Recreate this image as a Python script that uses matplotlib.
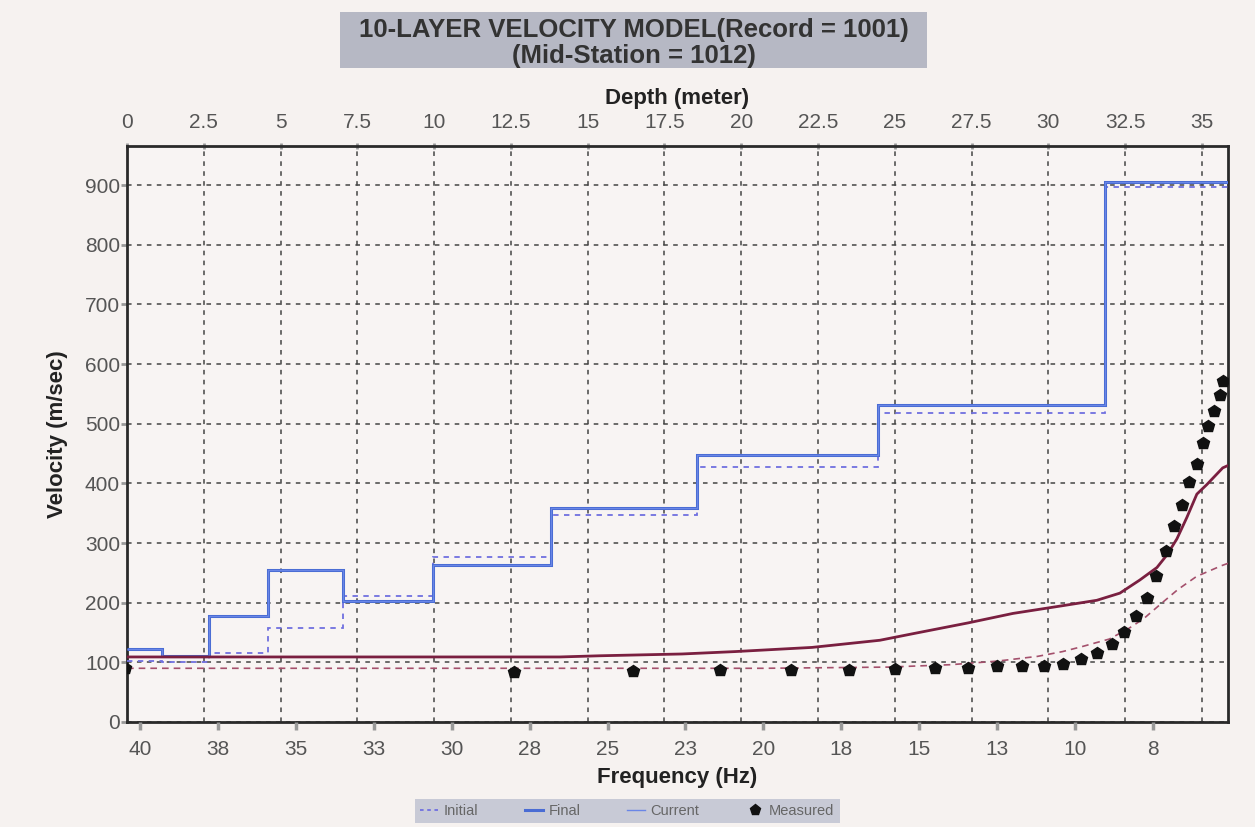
import matplotlib
matplotlib.use("Agg")
import matplotlib.pyplot as plt
from matplotlib.lines import Line2D
from matplotlib.patches import Rectangle

plt.rcParams['font.family'] = ['Liberation Sans', 'DejaVu Sans']

# ---------------- data ----------------
# layer boundaries (depth, m) and half-space end (axis limit)
layer_edges = [0.0, 1.14, 2.67, 4.59, 7.04, 9.97, 13.8, 18.57, 24.46, 31.86, 35.85]
vs_initial = [102, 100, 115, 158, 212, 277, 347, 428, 518, 897]
vs_final = [122, 111, 177, 254, 203, 263, 358, 447, 532, 905]
vs_current = [122, 111, 177, 254, 203, 263, 358, 447, 532, 905]

# dispersion curves (frequency Hz, phase velocity m/s)
disp_final_f = [40.42, 30.0, 26.53, 25.24, 22.61, 20.91, 18.44, 16.26, 15.20, 13.44, 11.99,
                10.39, 9.30, 8.56, 7.92, 7.37, 7.05, 6.73, 6.41, 6.09, 5.77, 5.26, 5.09]
disp_final_v = [109, 109, 109, 111, 114, 118, 125, 137, 148, 166, 182,
                195, 204, 216, 238, 259, 280, 307, 343, 382, 398, 426, 430]
disp_init_f = [40.42, 30.0, 20.0, 16.0, 14.0, 12.5, 11.2, 10.4, 9.8, 8.9, 8.3, 7.8, 7.2,
               6.7, 6.1, 5.3, 5.09]
disp_init_v = [90, 90, 90, 92, 96, 102, 110, 118, 126, 139, 156, 173, 200,
               222, 244, 262, 266]

# measured dispersion points
meas_f = [40.48, 28.0, 24.18, 21.39, 19.11, 17.25, 15.78, 14.49, 13.44, 12.51, 11.70,
          11.00, 10.39, 9.81, 9.30, 8.82, 8.43, 8.05, 7.69, 7.40, 7.08, 6.83, 6.57,
          6.35, 6.09, 5.90, 5.74, 5.54, 5.35, 5.26]
meas_v = [91, 84, 86, 87, 87, 87, 88, 90, 91, 93, 93,
          93, 97, 105, 115, 130, 151, 178, 208, 245, 287, 329, 364,
          402, 433, 467, 496, 522, 549, 572]

depth_ticks = [0, 2.5, 5, 7.5, 10, 12.5, 15, 17.5, 20, 22.5, 25, 27.5, 30, 32.5, 35]
depth_labels = ['0', '2.5', '5', '7.5', '10', '12.5', '15', '17.5', '20', '22.5', '25',
                '27.5', '30', '32.5', '35']
freq_ticks = [40, 37.5, 35, 32.5, 30, 27.5, 25, 22.5, 20, 17.5, 15, 12.5, 10, 7.5]
freq_labels = ['40', '38', '35', '33', '30', '28', '25', '23', '20', '18', '15', '13',
               '10', '8']
vel_ticks = [0, 100, 200, 300, 400, 500, 600, 700, 800, 900]

# ---------------- figure ----------------
BG = '#f6f2f0'
fig = plt.figure(figsize=(12.55, 8.27), dpi=100, facecolor=BG)
ax = fig.add_axes([0.1012, 0.127, 0.8773, 0.696])
ax.set_facecolor('#f8f4f3')
ax2 = ax.twiny()

C_FINAL = '#4a6cd4'
C_INIT = '#7070e0'
C_CURR = '#6a86e6'
C_MAROON = '#7a1f40'
C_MAROON_D = '#a4506c'
C_GRID = '#444444'
C_TICK = '#555555'

ax.stairs(vs_initial, layer_edges, baseline=None, color=C_INIT, lw=1.3,
          linestyle=(0, (3, 3)), zorder=3)
ax.stairs(vs_final, layer_edges, baseline=None, color=C_FINAL, lw=2.2, zorder=4)
ax.stairs(vs_current, layer_edges, baseline=None, color=C_CURR, lw=0.8, zorder=5)

ax.set_xlim(layer_edges[0], layer_edges[-1])
ax.set_ylim(0, 965)
ax.set_xticks(depth_ticks)
ax.set_xticklabels(depth_labels)
ax.xaxis.tick_top()
ax.xaxis.set_label_position('top')
ax.set_yticks(vel_ticks)
ax.grid(True, color=C_GRID, linestyle=(0, (3, 3.5)), lw=1.1)
ax.set_axisbelow(True)
ax.tick_params(axis='x', which='both', direction='inout', length=5, width=2,
               color='#999999', labelsize=15, labelcolor=C_TICK, pad=8,
               top=True, bottom=False, labeltop=True, labelbottom=False)
ax.tick_params(axis='y', which='both', direction='out', length=4, width=2,
               color='#999999', labelsize=15, labelcolor=C_TICK, pad=1)
ax.set_xlabel('Depth (meter)', fontsize=16, fontweight='bold', color='#222222', labelpad=6)
ax.set_ylabel('Velocity (m/sec)', fontsize=16, fontweight='bold', color='#222222', labelpad=12)
for s in ax.spines.values():
    s.set_color('#2a2a2a')
    s.set_linewidth(2)

# frequency axis (bottom)
ax2.set_xlim(40.42, 5.09)
ax2.set_xticks(freq_ticks)
ax2.set_xticklabels(freq_labels)
ax2.xaxis.tick_bottom()
ax2.xaxis.set_label_position('bottom')
ax2.tick_params(axis='x', direction='out', length=6, width=2.5, color='#999999',
                labelsize=15, labelcolor=C_TICK, pad=7,
                top=False, bottom=True, labeltop=False, labelbottom=True)
ax2.set_xlabel('Frequency (Hz)', fontsize=16, fontweight='bold', color='#222222', labelpad=6)
for s in ax2.spines.values():
    s.set_visible(False)

ax2.plot(disp_init_f, disp_init_v, color=C_MAROON_D, lw=1.2, linestyle=(0, (4, 3)), zorder=3)
ax2.plot(disp_final_f, disp_final_v, color=C_MAROON, lw=2.0, zorder=4)
ax2.plot(meas_f, meas_v, linestyle='none', marker='p', color='#111111', markersize=9, zorder=6)

# title box
fig.patches.append(Rectangle((0.271, 0.918), 0.468, 0.0677, transform=fig.transFigure,
                             facecolor='#b6b8c4', edgecolor='none', zorder=0))
fig.text(0.505, 0.948, '10-LAYER VELOCITY MODEL(Record = 1001)\n(Mid-Station = 1012)',
         ha='center', va='center', fontsize=18.5, fontweight='bold', color='#333333',
         linespacing=1.15)

# legend
handles = [Line2D([], [], color=C_INIT, lw=1.3, linestyle=(0, (2, 2))),
           Line2D([], [], color=C_FINAL, lw=2.2),
           Line2D([], [], color=C_CURR, lw=1.0),
           Line2D([], [], linestyle='none', marker='p', color='#111111', markersize=8)]
leg = fig.legend(handles, ['Initial', 'Final', 'Current', 'Measured'], loc='lower center',
                 bbox_to_anchor=(0.5, -0.004), ncol=4, frameon=True, facecolor='#c8cad6',
                 edgecolor='none', fancybox=False, framealpha=1, fontsize=10.5,
                 handlelength=1.2, handletextpad=0.4, columnspacing=3.2, borderpad=0.35)
for t in leg.get_texts():
    t.set_color('#666666')

fig.savefig('out.png', dpi=100, facecolor=BG)
